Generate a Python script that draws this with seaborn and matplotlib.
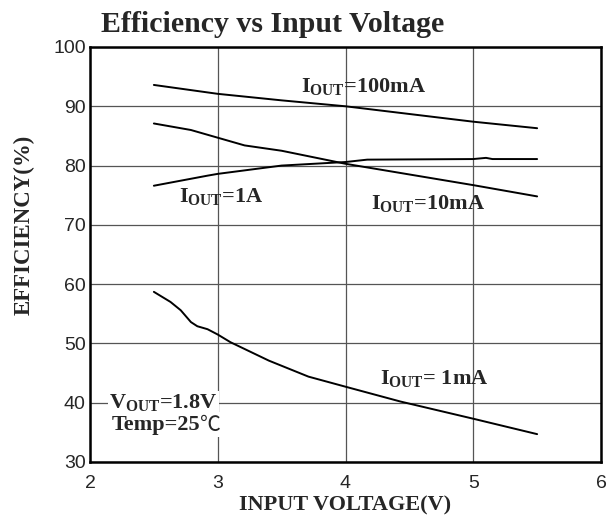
import matplotlib
matplotlib.use("Agg")
import matplotlib.pyplot as plt
import seaborn as sns
import pandas as pd

# ---- data ----
vin_100mA = [2.5, 3.0, 3.5, 4.0, 4.5, 5.0, 5.5]
eff_100mA = [93.6, 92.1, 91.0, 90.0, 88.7, 87.4, 86.3]

vin_10mA = [2.5, 2.79, 3.0, 3.21, 3.5, 4.0, 4.5, 5.0, 5.5]
eff_10mA = [87.1, 86.0, 84.7, 83.4, 82.5, 80.3, 78.5, 76.7, 74.8]

vin_1A = [2.5, 2.92, 3.0, 3.5, 4.0, 4.17, 5.0, 5.1, 5.15, 5.5]
eff_1A = [76.6, 78.3, 78.6, 80.0, 80.6, 81.0, 81.1, 81.3, 81.1, 81.1]

vin_1mA = [2.5, 2.63, 2.71, 2.79, 2.84, 2.92, 3.0, 3.1, 3.4, 3.71, 4.0, 4.43, 5.0, 5.5]
eff_1mA = [58.7, 57.0, 55.6, 53.6, 52.9, 52.4, 51.5, 50.2, 47.1, 44.4, 42.7, 40.2, 37.3, 34.7]

x_ticks = [2, 3, 4, 5, 6]
y_ticks = [30, 40, 50, 60, 70, 80, 90, 100]

series = {
    "100mA": (vin_100mA, eff_100mA),
    "10mA": (vin_10mA, eff_10mA),
    "1A": (vin_1A, eff_1A),
    "1mA": (vin_1mA, eff_1mA),
}
frames = []
for name, (xs, ys) in series.items():
    frames.append(pd.DataFrame({"vin": xs, "eff": ys, "iout": name}))
df = pd.concat(frames, ignore_index=True)

sns.set_theme(style="white")
plt.rcParams["mathtext.fontset"] = "custom"
plt.rcParams["mathtext.rm"] = "Liberation Serif:bold"
plt.rcParams["mathtext.it"] = "Liberation Serif:bold"
plt.rcParams["mathtext.bf"] = "Liberation Serif:bold"

fig = plt.figure(figsize=(6.16, 5.17), dpi=100)
ax = fig.add_axes([90 / 616, 1 - 462 / 517, (601 - 90) / 616, (462 - 47) / 517])

for name in series:
    sns.lineplot(data=df[df["iout"] == name], x="vin", y="eff", color="black",
                 linewidth=1.4, ax=ax, legend=False, sort=False, zorder=3)

ax.set_xlim(2, 6)
ax.set_ylim(30, 100)
ax.set_xticks(x_ticks)
ax.set_yticks(y_ticks)
ax.grid(True, color="#555555", linewidth=0.9)
ax.set_axisbelow(True)
for s in ax.spines.values():
    s.set_color("black")
    s.set_linewidth(1.8)
ax.tick_params(axis="both", which="both", length=0, labelsize=14)
ax.tick_params(axis="x", pad=9)
ax.tick_params(axis="y", pad=3)
for lab in ax.get_xticklabels() + ax.get_yticklabels():
    lab.set_fontfamily("Liberation Sans")

serif = "Liberation Serif"
ax.set_xlabel("INPUT VOLTAGE(V)", fontfamily=serif, fontweight="bold",
              fontsize=16, labelpad=3)
ax.set_ylabel("EFFICIENCY(%)", fontfamily=serif, fontweight="bold",
              fontsize=16.5)
ax.yaxis.set_label_coords(-0.108, 0.571)

fig.text(101 / 616, 1 - 32 / 517, "Efficiency vs Input Voltage", fontfamily=serif,
         fontweight="bold", fontsize=21.5, ha="left", va="baseline")

lab_kw = dict(fontfamily=serif, fontweight="bold", fontsize=16, va="center", ha="left",
              zorder=4)
ax.text(3.65, 93.4, r"$I_{OUT}$=100mA", **lab_kw)
ax.text(2.70, 74.7, r"$I_{OUT}$=1A", **lab_kw)
ax.text(4.20, 73.6, r"$I_{OUT}$=10mA", **lab_kw)
ax.text(4.27, 44.0, r"$I_{OUT}$= 1mA", **lab_kw)
box = dict(facecolor="white", edgecolor="none", pad=1)
ax.text(2.15, 40.0, r"$V_{OUT}$=1.8V", bbox=box, **lab_kw)
t_temp = ax.text(2.17, 36.3, "Temp=25", bbox=box, **lab_kw)
ax.annotate("\u2103", xy=(1, 0.5), xycoords=t_temp, ha="left", va="center",
            fontfamily=["Noto Sans CJK SC", "DejaVu Sans"], fontweight="normal",
            fontsize=15, zorder=4, bbox=box)

fig.savefig("out.png", dpi=100)
